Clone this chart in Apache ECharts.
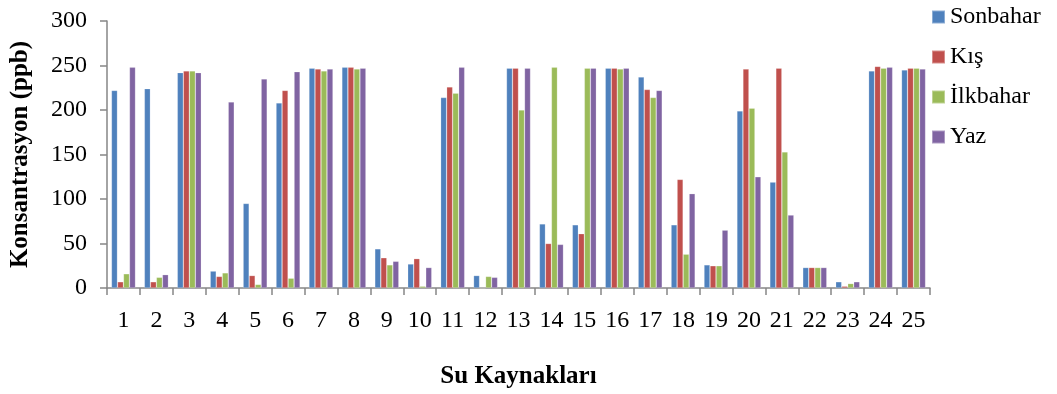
<!DOCTYPE html>
<html>
<head>
<meta charset="utf-8">
<script src="https://cdn.jsdelivr.net/npm/echarts@6/dist/echarts.min.js"></script>
<style>
  html, body { margin: 0; padding: 0; background: #ffffff; }
  #chart { width: 1057px; height: 394px; }
</style>
</head>
<body>
<div id="chart"></div>
<script>
// Water sources (1–25) and seasonal concentrations in ppb
const categories = ['1','2','3','4','5','6','7','8','9','10','11','12','13','14','15','16','17','18','19','20','21','22','23','24','25'];
const seriesNames = ['Sonbahar', 'Kış', 'İlkbahar', 'Yaz'];

const sonbahar = [222, 224, 242, 19, 95, 208, 247, 248, 44, 27, 214, 14, 247, 72, 71, 247, 237, 71, 26, 199, 119, 23, 7, 244, 245];
const kis      = [7, 7, 244, 13, 14, 222, 246, 248, 34, 33, 226, 0, 247, 50, 61, 247, 223, 122, 25, 246, 247, 23, 2, 249, 247];
const ilkbahar = [16, 12, 244, 17, 4, 11, 244, 246, 26, 2, 219, 13, 200, 248, 247, 246, 214, 38, 25, 202, 153, 23, 5, 247, 247];
const yaz      = [248, 15, 242, 209, 235, 243, 246, 247, 30, 23, 248, 12, 247, 49, 247, 247, 222, 106, 65, 125, 82, 23, 7, 248, 246];

const yTicks = { min: 0, max: 300, interval: 50 };
const colors = ['#4F81BD', '#C0504D', '#9BBB59', '#8064A2'];
const serif = '"Liberation Serif", "Times New Roman", serif';

const chart = echarts.init(document.getElementById('chart'));
const values = [sonbahar, kis, ilkbahar, yaz];

chart.setOption({
  animation: false,
  color: colors,
  textStyle: { fontFamily: serif },
  grid: { left: 104, right: 127, top: 21, bottom: 95, containLabel: false },
  legend: {
    orient: 'vertical',
    left: 926,
    top: 0,
    icon: 'rect',
    itemWidth: 13,
    itemHeight: 13,
    itemGap: 16,
    textStyle: { fontFamily: serif, fontSize: 24, color: '#000' },
    data: seriesNames
  },
  xAxis: {
    type: 'category',
    data: categories,
    name: 'Su Kaynakları',
    nameLocation: 'middle',
    nameGap: 76,
    nameTextStyle: { fontFamily: serif, fontSize: 25, fontWeight: 'bold', color: '#000' },
    axisLine: { lineStyle: { color: '#868686', width: 1.5 } },
    axisTick: { show: true, length: 7, lineStyle: { color: '#868686', width: 1.5 } },
    axisLabel: { fontFamily: serif, fontSize: 24, color: '#000', margin: 21, interval: 0 }
  },
  yAxis: {
    type: 'value',
    min: yTicks.min,
    max: yTicks.max,
    interval: yTicks.interval,
    name: 'Konsantrasyon (ppb)',
    nameLocation: 'middle',
    nameGap: 74,
    nameTextStyle: { fontFamily: serif, fontSize: 25, fontWeight: 'bold', color: '#000' },
    splitLine: { show: false },
    axisLine: { show: true, lineStyle: { color: '#868686', width: 1.5 } },
    axisTick: { show: true, length: 7, lineStyle: { color: '#868686', width: 1.5 } },
    axisLabel: { fontFamily: serif, fontSize: 24, color: '#000', margin: 20 }
  },
  series: seriesNames.map((name, i) => ({
    name: name,
    type: 'bar',
    data: values[i],
    barGap: '0%',
    barCategoryGap: '27%',
    itemStyle: { color: colors[i], borderColor: 'rgba(255,255,255,0.35)', borderWidth: 0.6 }
  }))
});
</script>
</body>
</html>
